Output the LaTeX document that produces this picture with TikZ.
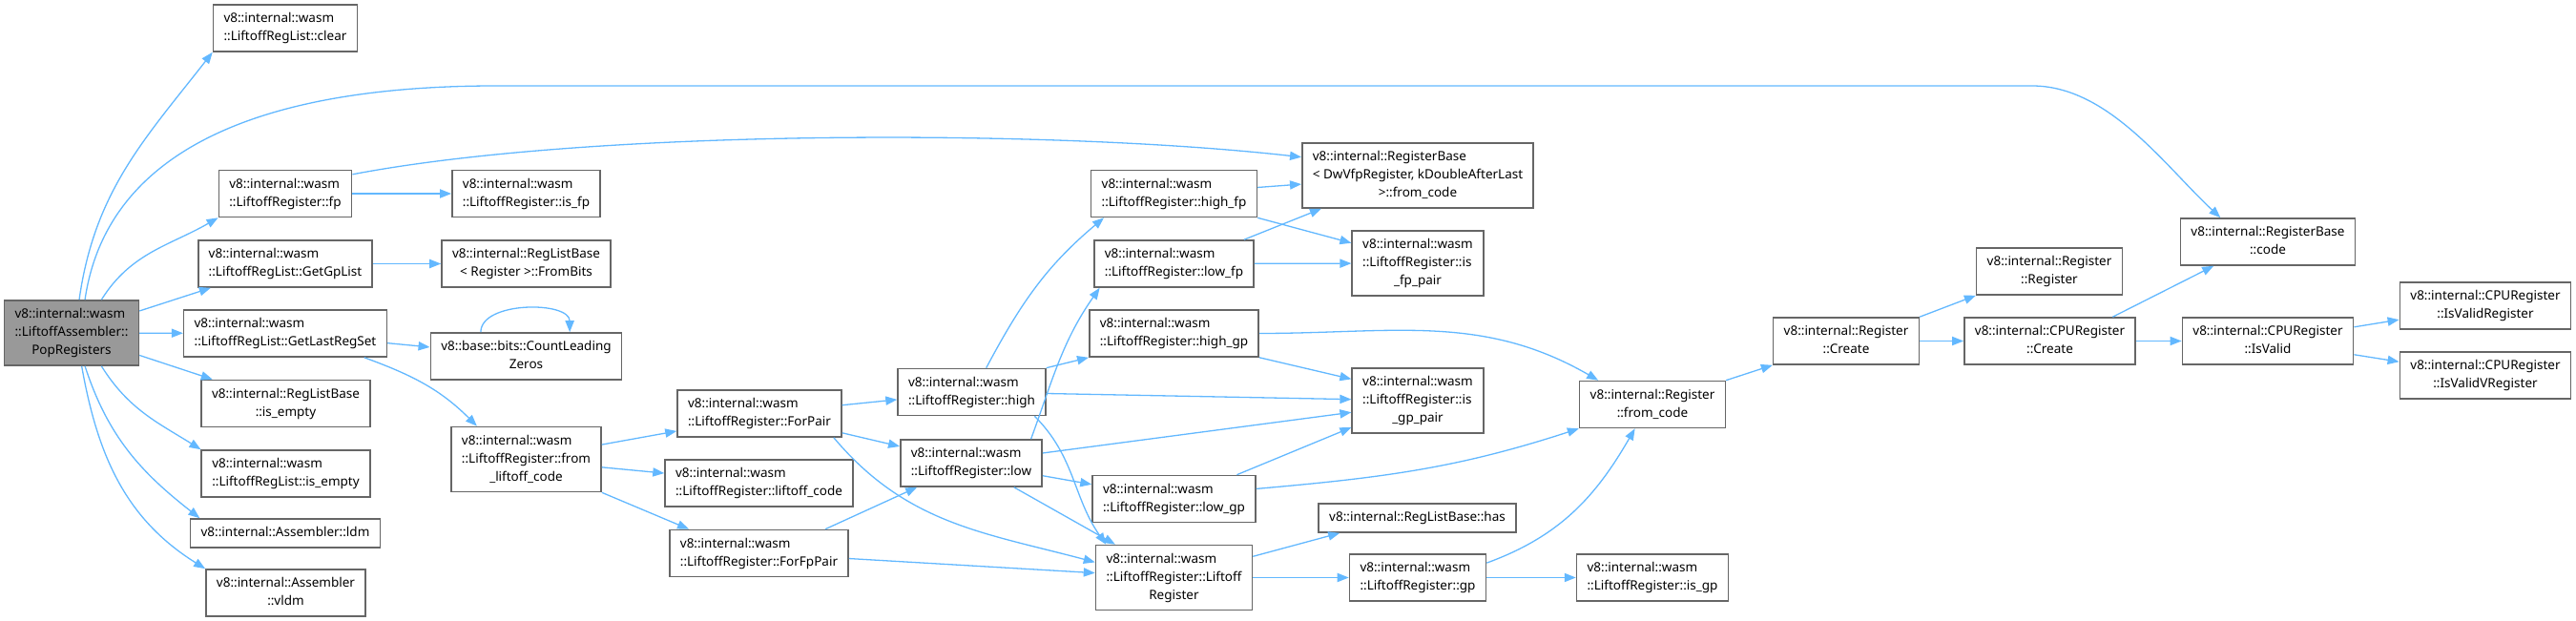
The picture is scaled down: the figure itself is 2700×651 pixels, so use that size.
\documentclass[tikz,border=0pt]{standalone}
\usepackage{fontspec}
\setmainfont{Noto Sans}
\usetikzlibrary{arrows.meta}
\definecolor{callblue}{HTML}{63B8FF}
\definecolor{boxline}{HTML}{666666}
\definecolor{rootfill}{HTML}{999999}
\tikzset{
  fnbox/.style={draw=boxline, line width=0.8pt, fill=white, inner xsep=5.5pt, inner ysep=2.75pt,
    font=\fontsize{6.75}{9.5}\selectfont}
}
\tikzset{
  fnroot/.style={fnbox, fill=rootfill}
}
\tikzset{
  call/.style={draw=callblue, line width=0.65pt, -{Triangle[length=6pt,width=4.6pt]}}
}
% upper lines flush left, last line centred
\newcommand{\fnl}[2]{\begin{tabular}{@{}l@{}}#1\\\multicolumn{1}{@{}c@{}}{#2}\end{tabular}}
\newcommand{\fno}[1]{\begin{tabular}{@{}c@{}}#1\end{tabular}}

\begin{document}
\begin{tikzpicture}[x=0.5pt,y=-0.5pt]
  \useasboundingbox (0,0) rectangle (2700,651);
  % caller
  \node[fnroot] (pop) at (75,349) {\fnl{v8::internal::wasm\\::LiftoffAssembler::}{PopRegisters}};
  % first level
  \node[fnbox] (clear) at (299,29.5) {\fnl{v8::internal::wasm}{::LiftoffRegList::clear}};
  \node[fnbox] (fp) at (299,203) {\fnl{v8::internal::wasm}{::LiftoffRegister::fp}};
  \node[fnbox] (getgp) at (299,276.5) {\fnl{v8::internal::wasm}{::LiftoffRegList::GetGpList}};
  \node[fnbox] (getlast) at (299,349.5) {\fnl{v8::internal::wasm}{::LiftoffRegList::GetLastRegSet}};
  \node[fnbox] (rlbempty) at (299.5,423) {\fnl{v8::internal::RegListBase}{::is\_empty}};
  \node[fnbox] (lrlempty) at (299.5,496.5) {\fnl{v8::internal::wasm}{::LiftoffRegList::is\_empty}};
  \node[fnbox] (ldm) at (299,559) {\fno{v8::internal::Assembler::ldm}};
  \node[fnbox] (vldm) at (299.5,621.5) {\fnl{v8::internal::Assembler}{::vldm}};
  % second level
  \node[fnbox] (isfp) at (551.5,203) {\fnl{v8::internal::wasm}{::LiftoffRegister::is\_fp}};
  \node[fnbox] (frombits) at (551.5,276.5) {\fnl{v8::internal::RegListBase}{< Register >::FromBits}};
  \node[fnbox] (clz) at (551.5,373.5) {\fnl{v8::base::bits::CountLeading}{Zeros}};
  \node[fnbox] (fromlc) at (551.5,481.5) {\fnl{v8::internal::wasm\\::LiftoffRegister::from}{\_liftoff\_code}};
  % pair helpers
  \node[fnbox] (forpair) at (796,433.5) {\fnl{v8::internal::wasm}{::LiftoffRegister::ForPair}};
  \node[fnbox] (liftcode) at (795.5,506.5) {\fnl{v8::internal::wasm}{::LiftoffRegister::liftoff\_code}};
  \node[fnbox] (forfppair) at (795.5,580) {\fnl{v8::internal::wasm}{::LiftoffRegister::ForFpPair}};
  \node[fnbox] (high) at (1018.5,411) {\fnl{v8::internal::wasm}{::LiftoffRegister::high}};
  \node[fnbox] (low) at (1018,485.5) {\fnl{v8::internal::wasm}{::LiftoffRegister::low}};
  \node[fnbox] (highfp) at (1230.5,203) {\fnl{v8::internal::wasm}{::LiftoffRegister::high\_fp}};
  \node[fnbox] (lowfp) at (1230.5,276.5) {\fnl{v8::internal::wasm}{::LiftoffRegister::low\_fp}};
  \node[fnbox] (highgp) at (1230.5,349.5) {\fnl{v8::internal::wasm}{::LiftoffRegister::high\_gp}};
  \node[fnbox] (lowgp) at (1230.5,523) {\fnl{v8::internal::wasm}{::LiftoffRegister::low\_gp}};
  \node[fnbox] (ctor) at (1230.5,605.5) {\fnl{v8::internal::wasm\\::LiftoffRegister::Liftoff}{Register}};
  \node[fnbox] (rbfromcode) at (1486,184) {\fnl{v8::internal::RegisterBase\\< DwVfpRegister, kDoubleAfterLast}{>::from\_code}};
  \node[fnbox] (isfppair) at (1486,276) {\fnl{v8::internal::wasm\\::LiftoffRegister::is}{\_fp\_pair}};
  \node[fnbox] (isgppair) at (1486,420) {\fnl{v8::internal::wasm\\::LiftoffRegister::is}{\_gp\_pair}};
  \node[fnbox] (has) at (1485.5,543) {\fno{v8::internal::RegListBase::has}};
  \node[fnbox] (gp) at (1486,605.5) {\fnl{v8::internal::wasm}{::LiftoffRegister::gp}};
  % register creation chain
  \node[fnbox] (regfromcode) at (1732,424) {\fnl{v8::internal::Register}{::from\_code}};
  \node[fnbox] (isgp) at (1732,605.5) {\fnl{v8::internal::wasm}{::LiftoffRegister::is\_gp}};
  \node[fnbox] (regcreate) at (1935,357.5) {\fnl{v8::internal::Register}{::Create}};
  \node[fnbox] (regreg) at (2148,284.5) {\fnl{v8::internal::Register}{::Register}};
  \node[fnbox] (cpucreate) at (2148.5,357.5) {\fnl{v8::internal::CPURegister}{::Create}};
  \node[fnbox] (code) at (2377,253.5) {\fnl{v8::internal::RegisterBase}{::code}};
  \node[fnbox] (isvalid) at (2377,357.5) {\fnl{v8::internal::CPURegister}{::IsValid}};
  \node[fnbox] (isvalidreg) at (2605,320.5) {\fnl{v8::internal::CPURegister}{::IsValidRegister}};
  \node[fnbox] (isvalidvreg) at (2605,393.5) {\fnl{v8::internal::CPURegister}{::IsValidVRegister}};

  % calls out of PopRegisters
  \draw[call] (pop.77) to[out=82,in=-128] (clear.south west);
  \draw[call] (pop.68) .. controls (110,170) and (250,90) .. (520,90) -- (2130,90)
    .. controls (2210,90) and (2270,175) .. (code.153);
  \draw[call] (pop.48) to[out=58,in=-150] (fp.south west);
  \draw[call] (pop) -- (getgp);
  \draw[call] (pop) -- (getlast);
  \draw[call] (pop) -- (rlbempty);
  \draw[call] (pop.-48) to[out=-58,in=148] (lrlempty.north west);
  \draw[call] (pop.-68) to[out=-72,in=142] (ldm.170);
  \draw[call] (pop.-73) to[out=-80,in=148] (vldm.north west);

  \draw[call] (fp) -- (isfp);
  \draw[call] (fp.16) .. controls (620,135) and (1100,135) .. (rbfromcode.171);
  \draw[call] (getgp) -- (frombits);
  \draw[call] (getlast) -- (clz);
  \draw[call] (getlast.-17) to[out=-20,in=135] (fromlc.146);
  \draw[call] (clz.152) to[out=90,in=90,looseness=0.9] (clz.29);

  \draw[call] (fromlc.11) -- (forpair.192);
  \draw[call] (fromlc.-6) -- (liftcode.174);
  \draw[call] (fromlc.south east) -- (forfppair.161);

  \draw[call] (forpair) -- (high);
  \draw[call] (forpair) -- (low);
  \draw[call] (forpair.-18) to[out=-50,in=165] (ctor.169);
  \draw[call] (forfppair.20) -- (low.204);
  \draw[call] (forfppair) -- (ctor);

  \draw[call] (high.59) to[out=62,in=-140] (highfp.199);
  \draw[call] (high.north east) -- (highgp.south west);
  \draw[call] (high) -- (isgppair);
  \draw[call] (high.-21) to[out=-45,in=125] (ctor.154);
  \draw[call] (low.22) to[out=70,in=-125] (lowfp.198);
  \draw[call] (low.8) -- (isgppair.190);
  \draw[call] (low) -- (lowgp);
  \draw[call] (low) -- (ctor);

  \draw[call] (highfp) -- (rbfromcode);
  \draw[call] (highfp.south east) -- (isfppair.163);
  \draw[call] (lowfp.19) -- (rbfromcode.199);
  \draw[call] (lowfp) -- (isfppair);
  \draw[call] (highgp.east) to[out=0,in=150] (regfromcode.156);
  \draw[call] (highgp.south east) -- (isgppair.162);
  \draw[call] (lowgp.21) -- (isgppair.202);
  \draw[call] (lowgp.7) to[out=5,in=-162] (regfromcode.south west);
  \draw[call] (ctor.15) -- (has.191);
  \draw[call] (ctor) -- (gp);
  \draw[call] (gp.12) to[out=20,in=-120] (regfromcode.234);
  \draw[call] (gp) -- (isgp);

  \draw[call] (regfromcode.north east) -- (regcreate.south west);
  \draw[call] (regcreate.north east) -- (regreg.south west);
  \draw[call] (regcreate) -- (cpucreate);
  \draw[call] (cpucreate.21) -- (code.204);
  \draw[call] (cpucreate) -- (isvalid);
  \draw[call] (isvalid) -- (isvalidreg);
  \draw[call] (isvalid) -- (isvalidvreg);
\end{tikzpicture}
\end{document}
